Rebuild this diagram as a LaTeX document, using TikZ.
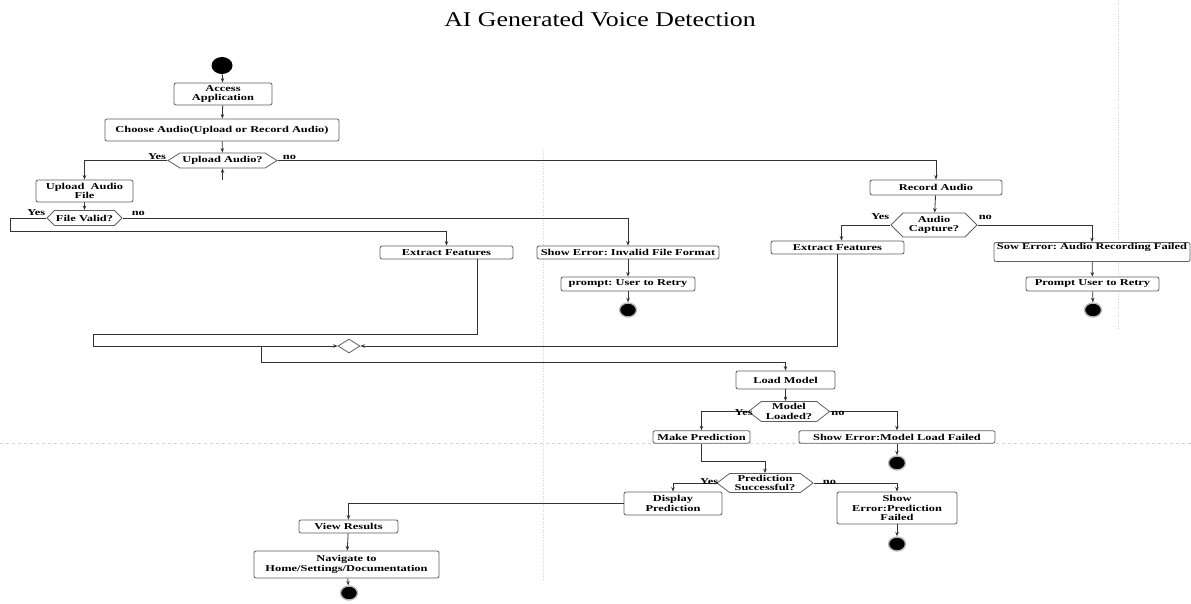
\documentclass[tikz,border=0pt]{standalone}
\usepackage{fontspec}
\setmainfont{Liberation Serif}
\newfontfamily\bxfam{Liberation Serif}[FakeStretch=1.38]
\newfontfamily\ttlfam{Liberation Serif}[FakeStretch=1.23]
\newcommand\bxfont{\bxfam\bfseries\fontsize{9}{9.5}\selectfont}
\usetikzlibrary{shapes.geometric,shapes.symbols,arrows.meta}
\frenchspacing
\tikzset{
  box/.style={draw=gray!75!black, rounded corners=2pt, line width=0.8pt, inner sep=0pt, align=center, font=\bxfont, fill=white},
  hex/.style={draw=gray!75!black, line width=0.8pt, shape=signal, signal to=east and west, inner sep=0pt, align=center, font=\bxfont, fill=white},
  ln/.style={draw=gray!40!black, line width=0.8pt},
  arr/.style={ln, -{Stealth[length=4.5pt,width=3.5pt]}},
  endst/.style={ellipse, fill=black, draw=gray!55, line width=1.4pt, minimum width=17pt, minimum height=14pt, inner sep=0pt},
  startst/.style={ellipse, fill=black, minimum width=21pt, minimum height=17pt, inner sep=0pt},
  lbl/.style={font=\bxfont, inner sep=1pt},
  merge/.style={diamond, draw=gray!75!black, line width=0.8pt, fill=white, minimum width=22pt, minimum height=14pt, inner sep=0pt},
  guide/.style={draw=gray!35, line width=0.6pt, dotted}
}
\begin{document}
\begin{tikzpicture}[x=1pt,y=-1pt]
\useasboundingbox[fill=white] (0,0) rectangle (1191,603);
% faint guide lines
\draw[guide] (543,150) -- (543,580);
\draw[guide] (1118,0) -- (1118,330);
\draw[guide, dashed] (0,443) -- (1191,443);

\node[font=\ttlfam\fontsize{21}{24}\selectfont] (title) at (600,19) {AI Generated Voice Detection};

% left / top
\node[startst] (start) at (222,65.5) {};
\node[box, minimum width=98pt, minimum height=22pt] (access) at (223,94) {Access\\Application};
\node[box, minimum width=234pt, minimum height=22pt] (choose) at (222,130) {Choose Audio(Upload or Record Audio)};
\node[hex, minimum width=109pt, minimum height=15pt, signal pointer angle=64] (upq) at (222.5,160.5) {Upload Audio?};
\coordinate (stub) at (222.5,180);
\node[box, minimum width=97pt, minimum height=22pt] (upfile) at (84.5,191) {Upload\ \ Audio\\File};
\node[hex, minimum width=75pt, minimum height=15pt, signal pointer angle=90] (valid) at (84.5,218) {File Valid?};
\coordinate (vcorner) at (10,218);
\node[box, minimum width=133pt, minimum height=13pt] (extL) at (446.5,252.5) {Extract Features};
\node[box, minimum width=182pt, minimum height=13pt] (errFmt) at (628,252.5) {Show Error: Invalid File Format};
\node[box, minimum width=134pt, minimum height=14pt] (retry1) at (628,284) {prompt: User to Retry};
\node[endst] (end1) at (628,310) {};

% right
\node[box, minimum width=132pt, minimum height=15pt] (record) at (936,187.5) {Record Audio};
\node[hex, minimum width=86pt, minimum height=24pt, signal pointer angle=90] (capq) at (934,225) {Audio\\Capture?};
\node[box, minimum width=133pt, minimum height=13pt] (extR) at (837.5,247.5) {Extract Features};
\node[box, minimum width=196pt, text depth=12pt, text height=7pt] (errRec) at (1092,252) {Sow Error: Audio Recording Failed};
\node[box, minimum width=133pt, minimum height=14pt] (retry2) at (1092.5,284) {Prompt User to Retry};
\node[endst] (end2) at (1093,310) {};

% merge
\node[merge] (mrg) at (349,346) {};
\coordinate (mout) at (261,346);

% model
\node[box, minimum width=99pt, minimum height=18pt] (load) at (785.5,380) {Load Model};
\node[hex, minimum width=81pt, minimum height=20pt, signal pointer angle=76] (mlq) at (789,411.5) {Model\\Loaded?};
\node[box, minimum width=97pt, minimum height=12.5pt] (mkpred) at (701.5,437) {Make Prediction};
\node[box, minimum width=196pt, minimum height=12.5pt] (errML) at (897,437) {Show Error:Model Load Failed};
\node[endst] (end3) at (897,463) {};
\node[hex, minimum width=96pt, minimum height=19pt, signal pointer angle=74] (psq) at (765,483) {Prediction\\Successful?};
\node[box, minimum width=98pt, minimum height=23pt] (disp) at (673,503.5) {Display\\Prediction};
\node[box, minimum width=120pt, minimum height=32pt] (errPred) at (897,508) {Show\\Error:Prediction\\Failed};
\node[endst] (end4) at (897,544) {};
\node[box, minimum width=99pt, minimum height=13pt] (view) at (348.5,526.5) {View Results};
\node[box, minimum width=185pt, minimum height=27pt] (nav) at (346.5,564.5) {Navigate to\\Home/Settings/Documentation};
\node[endst] (end5) at (349,593) {};

% connectors
\draw[arr] (start) -- (access);
\draw[arr] (access) -- (choose);
\draw[arr] (choose) -- (upq);
\draw[arr] (stub) -- (upq.south);
\draw[arr] (upq.west) -| (upfile.north);
\draw[arr] (upq.east) -| (record.north);
\node[lbl, anchor=south east] (l1) at (upq.west) {Yes};
\node[lbl, anchor=south west] (l2) at ([xshift=4pt]upq.east) {no};
\draw[arr] (upfile) -- (valid);
\draw[arr] (valid.west) -- (vcorner) |- (446.5,231.7) -- (extL.north);
\draw[arr] (valid.east) -| (errFmt.north);
\node[lbl, anchor=south east] (l3) at ([yshift=1pt]valid.west) {Yes};
\node[lbl, anchor=south west] (l4) at ([xshift=8pt,yshift=1pt]valid.east) {no};
\draw[arr] (errFmt) -- (retry1);
\draw[arr] (retry1) -- (end1);
\draw[arr] ([xshift=30.5pt]extL.south) |- (93,334) |- (mrg.west);

\draw[arr] (record) -- (capq);
\draw[arr] (capq.west) -| ([xshift=4pt]extR.north);
\draw[arr] (capq.east) -| (errRec.north);
\node[lbl, anchor=south east] (l5) at ([yshift=4pt]capq.west) {Yes};
\node[lbl, anchor=south west] (l6) at ([yshift=4pt]capq.east) {no};
\draw[arr] (errRec) -- (retry2);
\draw[arr] (retry2) -- (end2);
\draw[arr] ([xshift=-0.5pt]extR.south) |- (mrg.east);

\draw[arr] (mout) -- ++(0,16) -| (load.north);
\draw[arr] (load) -- (load |- mlq.north);
\draw[arr] (mlq.west) -| (mkpred.north);
\draw[arr] (mlq.east) -| (errML.north);
\node[lbl, anchor=south east] (l7) at ([xshift=6pt,yshift=-5pt]mlq.west) {Yes};
\node[lbl, anchor=south west] (l8) at ([yshift=-5pt]mlq.east) {no};
\draw[arr] (errML) -- (end3);
\draw[arr] (mkpred.south) -- ++(0,18) -| (psq.north);
\draw[arr] (psq.west) -| (disp.north);
\draw[arr] (psq.east) -| (errPred.north);
\node[lbl, anchor=south east] (l9) at ([xshift=3pt,yshift=-3pt]psq.west) {Yes};
\node[lbl, anchor=south west] (l10) at ([xshift=8pt,yshift=-3pt]psq.east) {no};
\draw[arr] (errPred) -- (end4);
\draw[arr] (disp.west) -| (view.north);
\draw[arr] (view) -- (nav);
\draw[arr] (nav) -- (end5);
\end{tikzpicture}
\end{document}
